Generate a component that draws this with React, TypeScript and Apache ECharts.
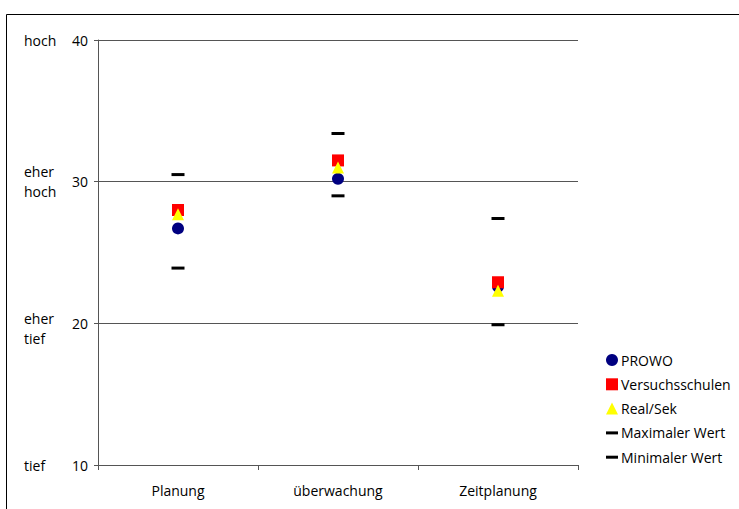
import React, { useEffect, useRef } from "react";
import * as echarts from "echarts";

const categories = ["Planung", "überwachung", "Zeitplanung"];
const prowo = [26.7, 30.2, 22.6];
const versuchsschulen = [28.0, 31.5, 22.9];
const realSek = [27.7, 31.0, 22.3];
const maxWert = [30.5, 33.4, 27.4];
const minWert = [23.9, 29.0, 19.9];
const yWords: Record<number, string> = {
  40: "{w|hoch}",
  30: "{w|eher\nhoch}",
  20: "{lo|eher\ntief}",
  10: "{w|tief}",
};

const FONT = "Open Sans";
const DASH = "path://M0,0 M12,12 M0,4.5 L12,4.5 L12,7.5 L0,7.5 Z";

export default function App() {
  const ref = useRef<HTMLDivElement>(null);
  useEffect(() => {
    document.body.style.margin = "0";
    const chart = echarts.init(ref.current!, null, { renderer: "svg" });
    const axisColor = "#555";
    chart.setOption({
      animation: false,
      textStyle: { fontFamily: FONT, color: "#000" },
      grid: { left: 98, top: 40, right: 161, bottom: 44, containLabel: false },
      graphic: [
        {
          type: "rect",
          shape: { x: 6.5, y: 14.5, width: 760, height: 520 },
          style: { fill: "none", stroke: "#000", lineWidth: 1 },
          silent: true,
        },
      ],
      xAxis: {
        type: "category",
        data: categories,
        boundaryGap: true,
        axisLine: { lineStyle: { color: axisColor, width: 1 } },
        axisTick: { show: true, length: 5, inside: false, lineStyle: { color: axisColor } },
        axisLabel: { color: "#000", fontSize: 14, fontFamily: FONT, margin: 18 },
        splitLine: { show: false },
      },
      yAxis: [
        {
          type: "value",
          min: 10,
          max: 40,
          interval: 10,
          axisLine: { show: true, lineStyle: { color: axisColor, width: 1 } },
          axisTick: { show: true, length: 4, lineStyle: { color: axisColor } },
          axisLabel: { color: "#000", fontSize: 14, fontFamily: FONT, margin: 10 },
          splitLine: { show: true, lineStyle: { color: "#555", width: 1 } },
        },
        {
          type: "value",
          position: "left",
          min: 10,
          max: 40,
          interval: 10,
          axisLine: { show: false },
          axisTick: { show: false },
          splitLine: { show: false },
          axisLabel: {
            color: "#000",
            fontSize: 14,
            fontFamily: FONT,
            align: "left",
            margin: 74,
            formatter: (v: number) => yWords[v] ?? "",
            rich: {
              w: { fontSize: 14, fontFamily: FONT, color: "#000", lineHeight: 20, align: "left" },
              lo: {
                fontSize: 14,
                fontFamily: FONT,
                color: "#000",
                lineHeight: 20,
                align: "left",
                padding: [10, 0, 0, 0],
              },
            },
          },
        },
      ],
      legend: {
        orient: "vertical",
        left: 601,
        top: 348,
        itemWidth: 12,
        itemHeight: 12,
        itemGap: 10.3,
        textStyle: { fontSize: 14, fontFamily: FONT, color: "#000", padding: [0, 0, 0, -2] },
        data: [
          { name: "PROWO", icon: "circle" },
          { name: "Versuchsschulen", icon: "rect" },
          { name: "Real/Sek", icon: "triangle" },
          { name: "Maximaler Wert", icon: DASH },
          { name: "Minimaler Wert", icon: DASH },
        ],
      },
      series: [
        {
          name: "PROWO",
          type: "scatter",
          data: prowo,
          symbol: "circle",
          symbolSize: 12,
          itemStyle: { color: "#000080", opacity: 1 },
        },
        {
          name: "Versuchsschulen",
          type: "scatter",
          data: versuchsschulen,
          symbol: "rect",
          symbolSize: 12,
          itemStyle: { color: "#FF0000", opacity: 1 },
        },
        {
          name: "Real/Sek",
          type: "scatter",
          data: realSek,
          symbol: "triangle",
          symbolSize: 12,
          itemStyle: { color: "#FFFF00", opacity: 1 },
        },
        {
          name: "Maximaler Wert",
          type: "scatter",
          data: maxWert,
          symbol: "rect",
          symbolSize: [13, 3],
          itemStyle: { color: "#000", opacity: 1 },
        },
        {
          name: "Minimaler Wert",
          type: "scatter",
          data: minWert,
          symbol: "rect",
          symbolSize: [13, 3],
          itemStyle: { color: "#000", opacity: 1 },
        },
      ],
    });
    return () => chart.dispose();
  }, []);
  return <div ref={ref} style={{ width: 739, height: 509 }} />;
}
